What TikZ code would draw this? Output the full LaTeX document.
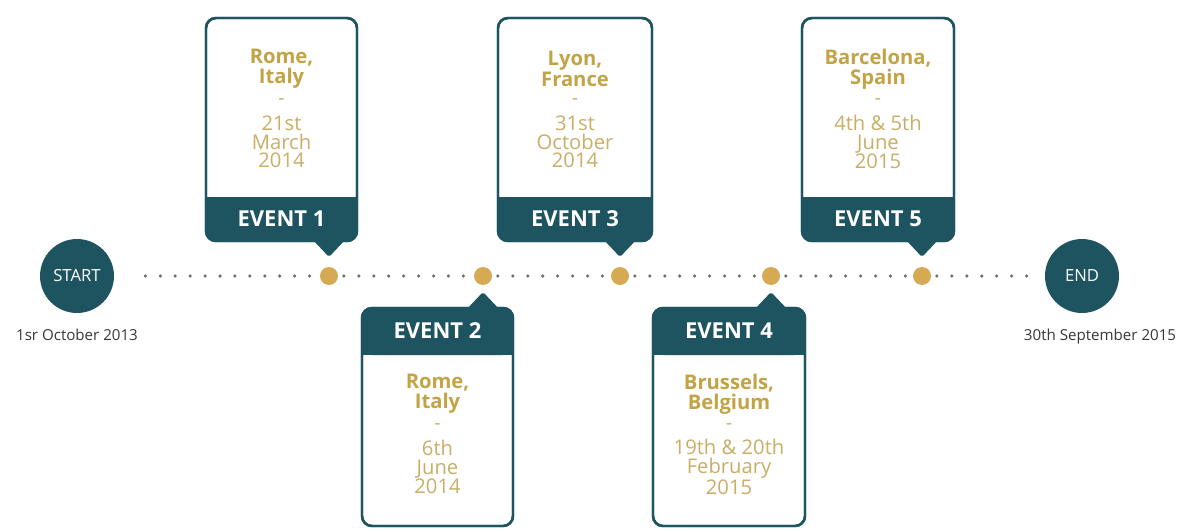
\documentclass[tikz,border=0pt]{standalone}
\usepackage{fontspec}
\setmainfont{Open Sans}
\usepackage{tikz}
\usetikzlibrary{positioning}
\pgfdeclarelayer{bg}
\pgfsetlayers{bg,main}
\definecolor{evteal}{RGB}{30,84,96}
\definecolor{golddot}{RGB}{214,170,82}
\definecolor{cityc}{RGB}{194,163,70}
\definecolor{datec}{RGB}{201,174,104}
\definecolor{dotc}{RGB}{110,110,110}
\definecolor{lblc}{RGB}{55,55,55}

\begin{document}
\begin{tikzpicture}[line cap=round,line join=round,x=0.02cm,y=-0.02cm,
    mile/.style={circle,fill=evteal,minimum size=1.48cm,inner sep=0pt,text=white,font=\fontsize{9.5}{11}\selectfont},
    hit/.style={circle,fill=golddot,minimum size=0.36cm,inner sep=0pt},
    dotline/.style={draw=dotc,line width=2pt,line cap=round,dash pattern=on 0pt off 8.5pt},
    boxface/.style={fill=white,draw=evteal,line width=1.4pt,rounded corners=0.2cm},
    boxedge/.style={draw=evteal,line width=1.4pt,rounded corners=0.2cm},
    city/.style={text=cityc,font=\bfseries\fontsize{11.5}{11.6}\selectfont,align=center,inner sep=0pt},
    sep/.style={text=datec,font=\fontsize{11}{11}\selectfont,inner sep=0pt},
    day/.style={text=datec,font=\fontsize{11.5}{10.6}\selectfont,align=center,inner sep=0pt},
    evlabel/.style={text=white,font=\bfseries\fontsize{12.5}{14}\selectfont,inner sep=0pt},
    enddate/.style={text=lblc,font=\fontsize{8.6}{10}\selectfont,inner sep=0pt}]
    \useasboundingbox (0,0) rectangle (1179,531);
    % timeline
    \node[mile] (start) at (77,276) {START};
    \node[mile] (end) at (1082,276) {END};
    \node[hit] (d1) at (329,276) {};
    \node[hit] (d2) at (483,276) {};
    \node[hit] (d3) at (620,276) {};
    \node[hit] (d4) at (771,276) {};
    \node[hit] (d5) at (922,276) {};
    \begin{pgfonlayer}{bg}
        \draw[dotline,shorten <=0.62cm] (start.east) -- (d1.center);
        \draw[dotline] (d1.center) -- (d2.center);
        \draw[dotline] (d2.center) -- (d3.center);
        \draw[dotline] (d3.center) -- (d4.center);
        \draw[dotline] (d4.center) -- (d5.center);
        \draw[dotline,shorten >=0.3cm] (d5.center) -- (end.west);
    \end{pgfonlayer}
    \node[enddate,below=0.3cm of start] (startdate) {1sr October 2013};
    \node[enddate,below=0.3cm of end,xshift=0.36cm] (enddate) {30th September 2015};
    % event 1
    \draw[boxface] (206,18) rectangle (357,241);
    \fill[evteal,rounded corners=0.2cm] (206,197) rectangle (357,241);
    \fill[evteal] (206,197) rectangle (357,212);
    \fill[evteal,rounded corners=1pt] (312,239) -- (329,257) -- (346,239) -- cycle;
    \draw[boxedge] (206,18) rectangle (357,241);
    \node[city] (city1) at (281.5,69) {Rome,\\Italy};
    \node[sep] (sep1) at (281.5,102) {-};
    \node[day] (day1) at (281.5,142) {21st\\March\\2014};
    \node[evlabel] (ev1) at (281.5,219) {EVENT 1};
    % event 3
    \draw[boxface] (498,18) rectangle (652,241);
    \fill[evteal,rounded corners=0.2cm] (498,197) rectangle (652,241);
    \fill[evteal] (498,197) rectangle (652,212);
    \fill[evteal,rounded corners=1pt] (603,239) -- (620,257) -- (637,239) -- cycle;
    \draw[boxedge] (498,18) rectangle (652,241);
    \node[city] (city3) at (575,69) {Lyon,\\France};
    \node[sep] (sep3) at (575,102) {-};
    \node[day] (day3) at (575,142) {31st\\October\\2014};
    \node[evlabel] (ev3) at (575,219) {EVENT 3};
    % event 5
    \draw[boxface] (802,18) rectangle (954,241);
    \fill[evteal,rounded corners=0.2cm] (802,197) rectangle (954,241);
    \fill[evteal] (802,197) rectangle (954,212);
    \fill[evteal,rounded corners=1pt] (905,239) -- (922,257) -- (939,239) -- cycle;
    \draw[boxedge] (802,18) rectangle (954,241);
    \node[city] (city5) at (878,69) {Barcelona,\\Spain};
    \node[sep] (sep5) at (878,102) {-};
    \node[day] (day5) at (878,142) {4th \& 5th\\June\\2015};
    \node[evlabel] (ev5) at (878,219) {EVENT 5};
    % event 2
    \draw[boxface] (362,308) rectangle (513,526);
    \fill[evteal,rounded corners=0.2cm] (362,308) rectangle (513,355);
    \fill[evteal] (362,340) rectangle (513,355);
    \fill[evteal,rounded corners=1pt] (466,310) -- (483,292) -- (500,310) -- cycle;
    \draw[boxedge] (362,308) rectangle (513,526);
    \node[evlabel] (ev2) at (437.5,331) {EVENT 2};
    \node[city] (city2) at (437.5,394) {Rome,\\Italy};
    \node[sep] (sep2) at (437.5,427) {-};
    \node[day] (day2) at (437.5,467) {6th\\June\\2014};
    % event 4
    \draw[boxface] (653,308) rectangle (805,526);
    \fill[evteal,rounded corners=0.2cm] (653,308) rectangle (805,355);
    \fill[evteal] (653,340) rectangle (805,355);
    \fill[evteal,rounded corners=1pt] (754,310) -- (771,292) -- (788,310) -- cycle;
    \draw[boxedge] (653,308) rectangle (805,526);
    \node[evlabel] (ev4) at (729,331) {EVENT 4};
    \node[city] (city4) at (729,394) {Brussels,\\Belgium};
    \node[sep] (sep4) at (729,427) {-};
    \node[day] (day4) at (729,467) {19th \& 20th\\February\\2015};
\end{tikzpicture}
\end{document}
